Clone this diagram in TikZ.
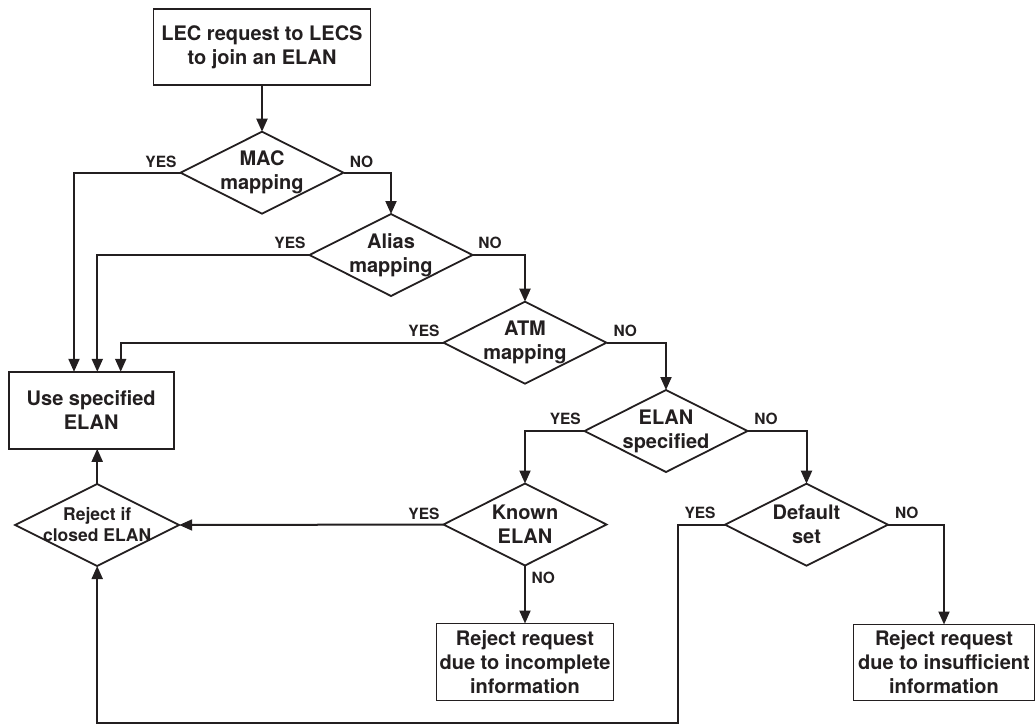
\documentclass[tikz,border=0pt]{standalone}
\usepackage{fontspec}
\setmainfont{TeX Gyre Heros}
\usetikzlibrary{shapes.geometric,arrows.meta,calc}
\definecolor{ink}{RGB}{35,31,32}
\begin{document}
\begin{tikzpicture}[x=1pt,y=-1pt,
 line/.style={draw=ink, line width=2pt},
 arr/.style={line, -{Triangle[length=13pt,width=11pt]}},
 procbox/.style={draw=ink, line width=1.8pt, rectangle, inner sep=0pt, outer sep=0pt, align=center, font=\fontsize{20}{24}\selectfont\bfseries, text=ink},
 decis/.style={draw=ink, line width=1.8pt, diamond, inner sep=0pt, outer sep=0pt, minimum width=163pt, minimum height=82pt},
 dtext/.style={align=center, font=\fontsize{20}{24}\selectfont\bfseries, text=ink, inner sep=0pt},
 stext/.style={align=center, font=\fontsize{17.5}{21}\selectfont\bfseries, text=ink, inner sep=0pt},
 yn/.style={font=\fontsize{15.5}{18}\selectfont\bfseries, text=ink, inner sep=0pt}]
\useasboundingbox (0,0) rectangle (1036,724);

% process boxes
\node[procbox, minimum width=217pt, minimum height=76pt] (top) at (262,47) {LEC request to LECS\\to join an ELAN};
\node[procbox, minimum width=165pt, minimum height=77pt] (use) at (91.2,410.3) {Use specified\\ELAN};
\node[procbox, minimum width=177pt, minimum height=77pt] (rej1) at (525,662) {Reject request\\due to incomplete\\information};
\node[procbox, minimum width=181pt, minimum height=76pt] (rej2) at (944,662.5) {Reject request\\due to insufficient\\information};

% decisions
\node[decis, label={[dtext]center:{MAC\\mapping}}] (mac) at (262,172.7) {};
\node[decis, label={[dtext]center:{Alias\\mapping}}] (alias) at (391,255) {};
\node[decis, label={[dtext]center:{ATM\\mapping}}] (atm) at (525,342.7) {};
\node[decis, label={[dtext]center:{ELAN\\specified}}] (espec) at (666,431) {};
\node[decis, label={[dtext]center:{Known\\ELAN}}] (known) at (525,524.5) {};
\node[decis, label={[dtext]center:{Default\\set}}] (deflt) at (806.5,524.7) {};
\node[decis, minimum width=164pt, label={[stext]center:{Reject if\\closed ELAN}}] (rejif) at (97.2,525) {};

\coordinate (loop) at (677.7,722.5);

% connectors
\draw[arr] (top.south) -- (mac.north);
\draw[arr] (mac.west) -| ([xshift=-17.2pt]use.north);
\draw[arr] (alias.west) -| ([xshift=6.1pt]use.north);
\draw[arr] (atm.west) -| ([xshift=29.5pt]use.north);
\draw[arr] (mac.east) -| (alias.north);
\draw[arr] (alias.east) -| (atm.north);
\draw[arr] (atm.east) -| (espec.north);
\draw[arr] (espec.west) -| (known.north);
\draw[arr] (espec.east) -| (deflt.north);
\draw[arr] (known.west) -- (rejif.east);
\draw[arr] (known.south) -- (rej1.north);
\draw[arr] (deflt.east) -| (rej2.north);
\draw[arr] (rejif.north) -- (rejif.north |- use.south);
\draw[arr] (deflt.west) -| (loop) -| (rejif.south);

% YES / NO labels
\node[yn] (l1) at (161,162) {YES};
\node[yn] (l2) at (361.5,162) {NO};
\node[yn] (l3) at (290,243) {YES};
\node[yn] (l4) at (490,243) {NO};
\node[yn] (l5) at (424,331.3) {YES};
\node[yn] (l6) at (625.3,331.3) {NO};
\node[yn] (l7) at (565.3,419) {YES};
\node[yn] (l8) at (766,419) {NO};
\node[yn] (l9) at (424,513.5) {YES};
\node[yn] (l10) at (543.3,577.8) {NO};
\node[yn] (l11) at (700,513.3) {YES};
\node[yn] (l12) at (906.7,513.3) {NO};
\end{tikzpicture}
\end{document}
